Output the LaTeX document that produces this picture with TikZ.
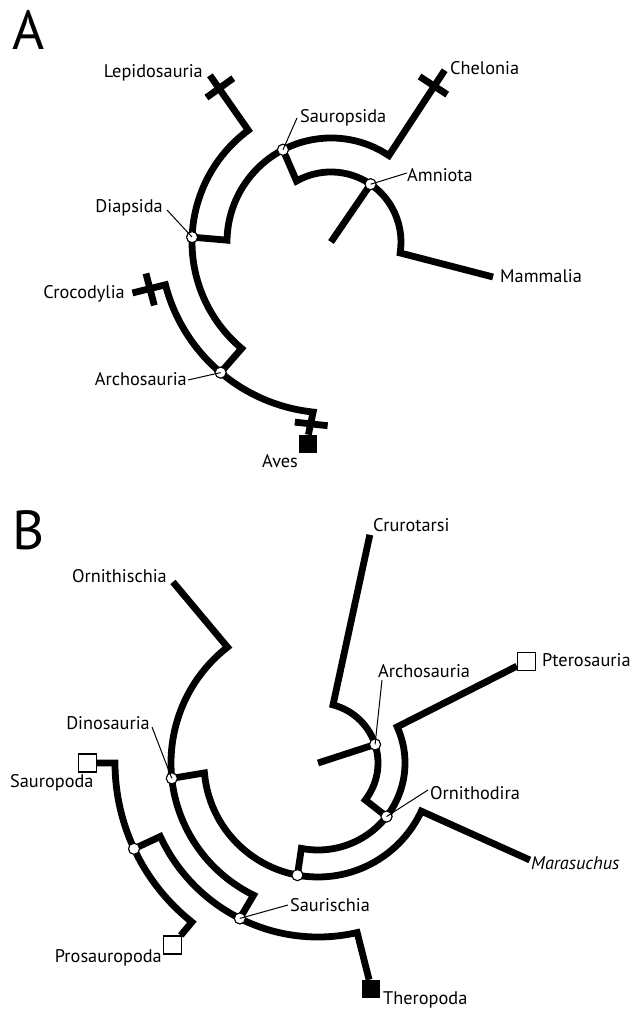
\documentclass[tikz,border=0pt]{standalone}
\usepackage{fontspec}
\setmainfont{PT Sans}
\usetikzlibrary{calc}
\begin{document}
\begin{tikzpicture}[x=1pt,y=1pt,
  branch/.style={line width=6.8pt, line cap=butt, line join=miter},
  crossbar/.style={line width=6.8pt, line cap=butt},
  nd/.style={circle, draw, fill=white, inner sep=0pt, minimum size=11pt, line width=1pt},
  lead/.style={line width=1pt},
  lbl/.style={font=\fontsize{18.3}{20}\selectfont, inner sep=0pt},
  big/.style={font=\fontsize{55}{60}\selectfont, inner sep=0pt},
  opensq/.style={rectangle, draw, fill=white, inner sep=0pt, minimum size=18pt, line width=1.3pt},
  fullsq/.style={rectangle, draw, fill=black, inner sep=0pt, minimum size=17pt, line width=1pt}]
\useasboundingbox (0,0) rectangle (630,1009);
\fill[white] (0,0) rectangle (630,1009);
% ================= Panel A =================
\node[big, anchor=base west] (titleA) at (12,959) {A};
\coordinate (CA) at (331,767);
\node[nd] (amn) at ($(CA)+(55.6:70pt)$) {};
\coordinate (amnA) at ($(CA)+(119.5:70pt)$);
\coordinate (mamT) at (493,732);
\node[nd] (sau) at ($(CA)+(117.5:104pt)$) {};
\coordinate (sauA) at ($(CA)+(56.2:104pt)$);
\coordinate (cheT) at ($(CA)+(56.5:206pt)$);
\coordinate (cheX) at ($(CA)+(56.8:187pt)$);
\node[nd] (dia) at ($(CA)+(178:139pt)$) {};
\coordinate (diaA) at ($(CA)+(126.5:139pt)$);
\coordinate (lepT) at ($(CA)+(126:206pt)$);
\coordinate (lepX) at ($(CA)+(125.8:190pt)$);
\node[nd] (arcA) at ($(CA)+(229.8:171pt)$) {};
\coordinate (arcAa) at ($(CA)+(194.5:171pt)$);
\coordinate (croT) at ($(CA)+(194.4:205pt)$);
\coordinate (croX) at ($(CA)+(194.7:187pt)$);
\coordinate (avesX) at ($(CA)+(263.8:183pt)$);
% branches
\draw[branch] (CA) -- (amn.center);
\draw[branch] (sau.center) -- (amnA) arc[start angle=119.5, end angle=-9, radius=70pt] -- (mamT);
\draw[branch] (cheT) -- (sauA) arc[start angle=56.2, end angle=179, radius=104pt] -- (dia.center);
\draw[branch] (lepT) -- (diaA) arc[start angle=126.5, end angle=230, radius=139pt] -- (arcA.center);
\node[fullsq] (aves) at ($(CA)+(263.6:203pt)$) {};
\draw[branch] (croT) -- (arcAa) arc[start angle=194.5, end angle=264, radius=171pt] -- (aves.north);
% extinction bars
\draw[crossbar] ($(cheX)+(146.8:16.5pt)$) -- ($(cheX)+(-33.2:16.5pt)$);
\draw[crossbar] ($(lepX)+(215.8:16.5pt)$) -- ($(lepX)+(35.8:16.5pt)$);
\draw[crossbar] ($(croX)+(104.7:16.5pt)$) -- ($(croX)+(284.7:16.5pt)$);
\draw[crossbar] ($(avesX)+(173.8:16.5pt)$) -- ($(avesX)+(353.8:16.5pt)$);
% node markers
\node[nd] at (amn) {};
\node[nd] at (sau) {};
\node[nd] at (dia) {};
\node[nd] at (arcA) {};
% labels
\node[lbl, anchor=base east] (lepL) at (203,931) {Lepidosauria};
\node[lbl, anchor=base west] (cheL) at (450,934) {Chelonia};
\node[lbl, anchor=base west] (sauL) at (300,886) {Sauropsida};
\node[lbl, anchor=base west] (amnL) at (407,827) {Amniota};
\node[lbl, anchor=base east] (diaL) at (163,796) {Diapsida};
\node[lbl, anchor=base west] (mamL) at (500,726) {Mammalia};
\node[lbl, anchor=base east] (croL) at (125,710) {Crocodylia};
\node[lbl, anchor=base east] (arcAL) at (187,623) {Archosauria};
\node[lbl, anchor=base west] (avesL) at (262,541) {Aves};
\coordinate (sauLd) at (297,891);
\coordinate (amnLd) at (407,836);
\coordinate (diaLd) at (167,799);
\coordinate (arcALd) at (188,629);
\draw[lead] (sauLd) -- (sau.center);
\draw[lead] (amnLd) -- (amn.center);
\draw[lead] (diaLd) -- (dia.center);
\draw[lead] (arcALd) -- (arcA.center);
% ================= Panel B =================
\node[big, anchor=base west] (titleB) at (12,459) {B};
\coordinate (CB) at (318,246);
\node[nd] (arcB) at ($(CB)+(18:60pt)$) {};
\coordinate (arcBa) at ($(CB)+(75.5:60pt)$);
\coordinate (cruT) at ($(CB)+(77.2:234pt)$);
\node[nd] (orn) at ($(CB)+(-38:87pt)$) {};
\coordinate (ornA) at ($(CB)+(24.5:87pt)$);
\node[nd] (n1) at ($(CB)+(-100.4:114pt)$) {};
\coordinate (n1a) at ($(CB)+(185:114pt)$);
\coordinate (marT) at ($(CB)+(-24.6:233pt)$);
\node[nd] (dino) at ($(CB)+(186:147pt)$) {};
\coordinate (dinoA) at ($(CB)+(128:147pt)$);
\coordinate (ornithT) at ($(CB)+(128.7:232pt)$);
\node[nd] (saur) at ($(CB)+(243.3:174pt)$) {};
\coordinate (saurA) at ($(CB)+(205:174pt)$);
\node[nd] (n2) at ($(CB)+(205:203pt)$) {};
\coordinate (n2a) at ($(CB)+(180:203pt)$);
\node[opensq] (pte) at ($(CB)+(26:232pt)$) {};
\node[fullsq] (thr) at ($(CB)+(283.3:232pt)$) {};
\node[opensq] (spd) at ($(CB)+(180:230.5pt)$) {};
\node[opensq] (pro) at ($(CB)+(231.4:233pt)$) {};
% branches
\draw[branch] (CB) -- (arcB.center);
\draw[branch] (cruT) -- (arcBa) arc[start angle=75.5, end angle=-38, radius=60pt] -- (orn.center);
\draw[branch] (pte) -- (ornA) arc[start angle=24.5, end angle=-101, radius=87pt] -- (n1.center);
\draw[branch] (dino.center) -- (n1a) arc[start angle=185, end angle=335, radius=114pt] -- (marT);
\draw[branch] (ornithT) -- (dinoA) arc[start angle=128, end angle=244, radius=147pt] -- (saur.center);
\draw[branch] (n2.center) -- (saurA) arc[start angle=205, end angle=283, radius=174pt] -- (thr);
\draw[branch] (spd) -- (n2a) arc[start angle=180, end angle=231.6, radius=203pt] -- (pro);
% node markers and terminal squares on top
\node[nd] at (arcB) {};
\node[nd] at (orn) {};
\node[nd] at (n1) {};
\node[nd] at (dino) {};
\node[nd] at (saur) {};
\node[nd] at (n2) {};
\node[opensq] at (pte) {};
\node[fullsq] at (thr) {};
\node[opensq] at (spd) {};
\node[opensq] at (pro) {};
% labels
\node[lbl, anchor=base east] (ornithL) at (167,426) {Ornithischia};
\node[lbl, anchor=base west] (cruL) at (373,477) {Crurotarsi};
\node[lbl, anchor=base west] (arcBL) at (378,331) {Archosauria};
\node[lbl, anchor=base west] (pteL) at (542,342) {Pterosauria};
\node[lbl, anchor=base east] (dinoL) at (150,279) {Dinosauria};
\node[lbl, anchor=base west] (ornL) at (430,209) {Ornithodira};
\node[lbl, anchor=base west] (marL) at (531,139) {\itshape Marasuchus};
\node[lbl, anchor=base west] (spdL) at (10,221) {Sauropoda};
\node[lbl, anchor=base east] (proL) at (162,46) {Prosauropoda};
\node[lbl, anchor=base west] (saurL) at (290,97) {Saurischia};
\node[lbl, anchor=base west] (thrL) at (383,5) {Theropoda};
\coordinate (arcBLd) at (382,329);
\coordinate (dinoLd) at (152,282);
\coordinate (ornLd) at (428,219);
\coordinate (saurLd) at (288,104);
\draw[lead] (arcBLd) -- (arcB.center);
\draw[lead] (dinoLd) -- (dino.center);
\draw[lead] (ornLd) -- (orn.center);
\draw[lead] (saurLd) -- (saur.center);
\end{tikzpicture}
\end{document}
